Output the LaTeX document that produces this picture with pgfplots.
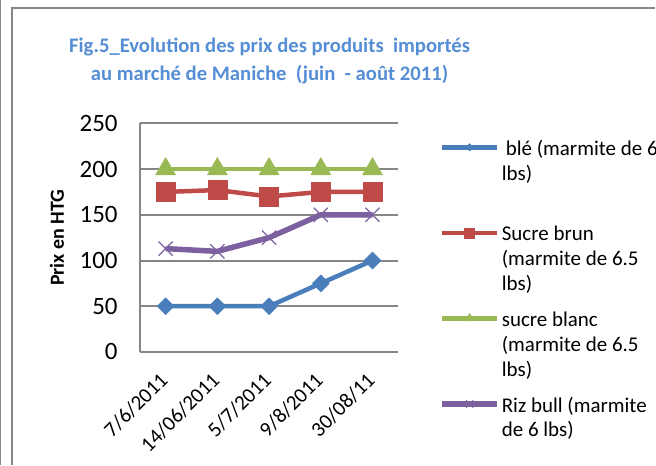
\documentclass[border=0pt]{standalone}
\usepackage{pgfplots}
\pgfplotsset{compat=1.18}
\usepackage{fontspec}
\setmainfont{Carlito}
\definecolor{cblue}{RGB}{74,126,187}
\definecolor{cred}{RGB}{190,75,72}
\definecolor{cgreen}{RGB}{152,185,84}
\definecolor{cpurple}{RGB}{125,96,160}
\definecolor{ctitle}{RGB}{85,142,213}
\definecolor{cgrid}{RGB}{134,134,134}
\newcommand{\legtext}[1]{\parbox[t]{230pt}{\raggedright #1}}
\begin{document}
\begin{tikzpicture}
\fill[white] (0pt,0pt) rectangle (656pt,465pt);
\draw[cgrid, line width=1pt] (0.5pt,0pt) -- (0.5pt,465pt);
\draw[cgrid, line width=2pt] (12pt,0pt) -- (12pt,457pt) -- (656pt,457pt);
\node[align=center, font=\fontsize{20.7}{27.5}\selectfont\bfseries, text=ctitle, anchor=base] at (270pt,385pt) {Fig.5\_Evolution des prix des produits~~importés\\au marché de Maniche~~(juin~~- août 2011)};
\begin{axis}[overlay,
  at={(140pt,113pt)}, anchor=south west,
  scale only axis, width=259pt, height=229pt,
  xmin=-0.5, xmax=4.5, ymin=0, ymax=250,
  xtick={0,1,2,3,4},
  xticklabels={7/6/2011,14/06/2011,5/7/2011,9/8/2011,30/08/11},
  ytick={0,50,100,150,200,250},
  axis x line*=bottom, axis y line*=left,
  axis line style={cgrid, line width=2pt, -},
  ymajorgrids, grid style={cgrid, line width=2pt},
  major tick length=0pt,
  /pgf/number format/assume math mode=true,
  yticklabel style={font=\fontsize{25}{30}\selectfont, inner sep=0pt, xshift=-22pt},
  xticklabel style={font=\fontsize{21}{25}\selectfont, xshift=-7pt, yshift=-19pt, rotate=45, anchor=north east, inner sep=0pt},
  ylabel={Prix en HTG},
  ylabel style={font=\fontsize{20}{24}\selectfont\bfseries, at={(axis description cs:-0.32,0.5)}, anchor=center},
  legend style={at={(axis description cs:1.158,1.048)}, anchor=north west, draw=none, fill=none, inner sep=0pt, row sep=0pt, font=\fontsize{21}{25}\selectfont, cells={anchor=base west}, nodes={inner sep=2pt, text height=40.85pt, text depth=40.85pt}},
  legend cell align=left,
  legend image code/.code={\draw[mark repeat=2, mark phase=2, #1] plot coordinates {(0pt,8pt) (27.5pt,8pt) (55pt,8pt)};},
]
\addplot[cblue, line width=4.5pt, line join=round, mark=square*, mark size=6pt, mark options={rotate=45, line width=0.5pt}, legend image post style={mark size=2.6pt}] coordinates {(0,50) (1,50) (2,50) (3,75) (4,100)};
\addlegendentry{\legtext{\hspace*{4pt}blé (marmite de 6.5\\lbs)}}
\addplot[cred, line width=4.5pt, line join=round, mark=square*, mark size=9.5pt, mark options={line width=0.5pt}, legend image post style={mark size=5pt}] coordinates {(0,175) (1,177) (2,170) (3,175) (4,175)};
\addlegendentry{\legtext{Sucre brun\\(marmite de 6.5\\lbs)}}
\addplot[cgreen, line width=4.5pt, line join=round, mark=triangle*, mark size=11.5pt, mark options={line width=0.5pt}, legend image post style={mark size=5pt}] coordinates {(0,200) (1,200) (2,200) (3,200) (4,200)};
\addlegendentry{\legtext{sucre blanc\\(marmite de 6.5\\lbs)}}
\addplot[cpurple, line width=5.5pt, line join=round, mark=x, mark size=10pt, mark options={line width=1.2pt}, legend image post style={mark size=5pt}] coordinates {(0,113) (1,110) (2,125) (3,150) (4,150)};
\addlegendentry{\legtext{Riz bull (marmite\\de 6 lbs)}}
\end{axis}
\end{tikzpicture}
\end{document}
